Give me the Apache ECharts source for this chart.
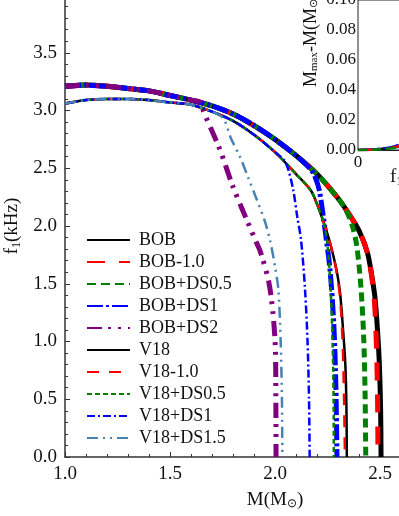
<!DOCTYPE html>
<html><head><meta charset="utf-8">
<script src="https://cdn.jsdelivr.net/npm/echarts@6/dist/echarts.min.js"></script>
<style>html,body{margin:0;padding:0;background:#fff}#c{width:399px;height:516px}</style>
</head><body><div id="c"></div>
<script>
// ---- data (M in solar masses, f1 in kHz) ----
const seriesNames = ['BOB','BOB-1.0','BOB+DS0.5','BOB+DS1','BOB+DS2','V18','V18-1.0','V18+DS0.5','V18+DS1','V18+DS1.5'];

const M_BOB   = [1.00,1.10,1.20,1.30,1.40,1.50,1.60,1.70,1.80,1.90,2.00,2.10,2.20,2.30,2.35,2.40,2.44,2.46,2.476,2.488,2.497,2.503,2.505];
const F_BOB   = [3.21,3.22,3.21,3.19,3.17,3.13,3.09,3.04,2.97,2.87,2.75,2.61,2.45,2.24,2.11,1.96,1.77,1.58,1.38,1.10,0.80,0.40,0.00];

const M_BOB10 = [1.00,1.10,1.20,1.30,1.40,1.50,1.60,1.70,1.80,1.90,2.00,2.10,2.20,2.30,2.35,2.40,2.44,2.46,2.474,2.484,2.489,2.490];
const F_BOB10 = [3.21,3.22,3.21,3.19,3.17,3.13,3.09,3.04,2.97,2.87,2.75,2.61,2.45,2.24,2.11,1.96,1.77,1.57,1.33,0.90,0.40,0.00];

const M_BOBDS05 = [1.00,1.10,1.20,1.30,1.40,1.50,1.60,1.70,1.80,1.90,2.00,2.10,2.20,2.30,2.34,2.37,2.39,2.41,2.422,2.429,2.432];
const F_BOBDS05 = [3.21,3.22,3.21,3.19,3.17,3.13,3.09,3.04,2.97,2.87,2.75,2.61,2.45,2.24,2.13,1.99,1.82,1.45,1.05,0.55,0.00];

const M_BOBDS1 = [1.00,1.10,1.20,1.30,1.40,1.50,1.60,1.70,1.80,1.90,2.00,2.10,2.17,2.19,2.212,2.238,2.262,2.28,2.29,2.295];
const F_BOBDS1 = [3.21,3.22,3.21,3.19,3.17,3.13,3.09,3.04,2.97,2.87,2.75,2.61,2.49,2.43,2.30,1.97,1.62,1.15,0.60,0.00];

const M_BOBDS2 = [1.00,1.10,1.20,1.30,1.40,1.50,1.60,1.645,1.66,1.738,1.80,1.913,1.93,1.97,1.99,2.002,2.004,2.005];
const F_BOBDS2 = [3.21,3.22,3.21,3.19,3.17,3.13,3.09,3.07,2.99,2.66,2.34,1.85,1.78,1.52,1.25,0.93,0.50,0.00];

const M_V18   = [1.00,1.10,1.20,1.30,1.40,1.50,1.60,1.70,1.80,1.90,2.00,2.10,2.17,2.20,2.23,2.255,2.278,2.295,2.31,2.325,2.335,2.340,2.342];
const F_V18   = [3.06,3.09,3.10,3.10,3.09,3.07,3.05,2.99,2.91,2.79,2.64,2.45,2.31,2.19,2.04,1.90,1.74,1.60,1.42,1.08,0.80,0.45,0.00];

const M_V1810 = [1.00,1.10,1.20,1.30,1.40,1.50,1.60,1.70,1.80,1.90,2.00,2.10,2.17,2.20,2.23,2.255,2.278,2.295,2.31,2.322,2.329,2.333];
const F_V1810 = [3.06,3.09,3.10,3.10,3.09,3.07,3.05,2.99,2.91,2.79,2.64,2.45,2.31,2.19,2.04,1.90,1.74,1.58,1.38,1.00,0.50,0.00];

const M_V18DS05 = [1.00,1.10,1.20,1.30,1.40,1.50,1.60,1.70,1.80,1.90,2.00,2.10,2.17,2.20,2.23,2.25,2.265,2.274,2.279,2.280];
const F_V18DS05 = [3.06,3.09,3.10,3.10,3.09,3.07,3.05,2.99,2.91,2.79,2.64,2.45,2.31,2.19,2.04,1.84,1.45,1.00,0.50,0.00];

const M_V18DS1 = [1.00,1.10,1.20,1.30,1.40,1.50,1.60,1.70,1.80,1.90,2.00,2.043,2.063,2.087,2.106,2.124,2.143,2.155,2.162,2.165];
const F_V18DS1 = [3.06,3.09,3.10,3.10,3.09,3.07,3.05,2.99,2.91,2.79,2.64,2.57,2.49,2.31,2.08,1.88,1.45,1.00,0.50,0.00];

const M_V18DS15 = [1.00,1.10,1.20,1.30,1.40,1.50,1.60,1.70,1.754,1.79,1.833,1.87,1.913,1.95,1.976,2.00,2.016,2.027,2.033,2.035];
const F_V18DS15 = [3.06,3.09,3.10,3.10,3.09,3.07,3.05,2.99,2.93,2.76,2.60,2.43,2.23,2.05,1.88,1.65,1.45,1.00,0.50,0.00];

// inset: f1 (kHz) vs Mmax - M (Msun)
const INSET_F      = [0.0,0.4,0.8,1.2,1.6,2.0,2.5,3.0,3.5];
const INSET_DM_BOB = [0.0,0.0002,0.0008,0.0020,0.0050,0.0100,0.0200,0.0400,0.0700];
const INSET_DM_DS1 = [0.0,0.0003,0.0010,0.0026,0.0060,0.0120,0.0240,0.0460,0.0780];
const INSET_DM_V18 = [0.0,0.0001,0.0006,0.0016,0.0040,0.0085,0.0180,0.0360,0.0650];

const X_TICKS = [1.0,1.5,2.0,2.5,3.0];
const Y_TICKS = [0.0,0.5,1.0,1.5,2.0,2.5,3.0,3.5,4.0];

// ---- styles ----
const FONT = 'Liberation Serif';
const mainData = [
  [M_BOB,F_BOB],[M_BOB10,F_BOB10],[M_BOBDS05,F_BOBDS05],[M_BOBDS1,F_BOBDS1],[M_BOBDS2,F_BOBDS2],
  [M_V18,F_V18],[M_V1810,F_V1810],[M_V18DS05,F_V18DS05],[M_V18DS1,F_V18DS1],[M_V18DS15,F_V18DS15]
];
const styles = [
  {color:'#000000', width:5,   type:'solid'},
  {color:'#ff0000', width:5,   type:[18,14]},
  {color:'#008000', width:5,   type:[9,5]},
  {color:'#0000ff', width:5,   type:[16,3,3,3]},
  {color:'#800080', width:5,   type:[15,6,3,7,3,7]},
  {color:'#000000', width:2.5, type:'solid'},
  {color:'#ff0000', width:2.5, type:[12,10]},
  {color:'#008000', width:2.5, type:[5,3]},
  {color:'#0000ff', width:2.5, type:[8,3,2,3]},
  {color:'#4682b4', width:2.5, type:[11,5,2,5,2,5]}
];

const zip = (a,b) => a.map((v,i)=>[v,b[i]]);

const series = seriesNames.map((n,i)=>({
  name:n, type:'line', xAxisIndex:0, yAxisIndex:0,
  data: zip(mainData[i][0], mainData[i][1]),
  symbol:'none', showSymbol:false, smooth:0.3,
  lineStyle:{color:styles[i].color, width:styles[i].width, type:styles[i].type, cap:'butt'},
  itemStyle:{color:styles[i].color},
  z: 2+i, animation:false
}));
const insetSets = [[INSET_DM_V18,9],[INSET_DM_BOB,0],[INSET_DM_DS1,3],[INSET_DM_BOB,1],[INSET_DM_V18,2]];
insetSets.forEach(([d,si],k)=>{
  series.push({
    name:'inset'+k, type:'line', xAxisIndex:1, yAxisIndex:1,
    data: zip(INSET_F,d), symbol:'none', showSymbol:false, smooth:0.3,
    lineStyle:{color:styles[si].color, width:2.5, type:styles[si].type},
    z: 20+k, animation:false
  });
});

const rich = {sub:{fontSize:12, fontFamily:FONT, color:'#111', verticalAlign:'bottom', padding:[8,0,0,0]}};

const chart = echarts.init(document.getElementById('c'), null, {renderer:'canvas'});
chart.setOption({
  backgroundColor:'#ffffff',
  animation:false,
  grid:[
    {left:65, top:-5, width:420, height:462, containLabel:false, outerBoundsMode:'none'},
    {left:358, top:0, width:124, height:150, show:true, backgroundColor:'#ffffff', borderColor:'#222', borderWidth:1, z:10, outerBoundsMode:'none'}
  ],
  legend:{
    data:seriesNames, orient:'vertical', left:86, top:231, padding:0,
    itemWidth:43, itemHeight:12, itemGap:4, selectedMode:false,
    itemStyle:{opacity:0},
    textStyle:{fontFamily:FONT, fontSize:18, color:'#111', lineHeight:18, padding:[0,0,0,4]}
  },
  xAxis:[
    {type:'value', gridIndex:0, min:X_TICKS[0], max:X_TICKS[X_TICKS.length-1], interval:0.5,
     name:'M(M{sub|⊙})', nameLocation:'middle', nameGap:33,
     nameTextStyle:{fontFamily:FONT, fontSize:19, color:'#111', rich:rich},
     axisLine:{onZero:false, lineStyle:{color:'#333', width:1.5}},
     axisTick:{inside:true, length:5, lineStyle:{color:'#333'}},
     minorTick:{show:true, splitNumber:5, length:3, lineStyle:{color:'#333'}},
     splitLine:{show:false},
     axisLabel:{fontFamily:FONT, fontSize:19, color:'#111', margin:8, formatter:v=>v.toFixed(1)}},
    {type:'value', gridIndex:1, min:0, max:4, interval:2,
     axisLine:{onZero:false, lineStyle:{color:'#222', width:1}},
     axisTick:{inside:true, length:4, lineStyle:{color:'#222'}},
     splitLine:{show:false},
     axisLabel:{fontFamily:FONT, fontSize:17, color:'#111', margin:4, formatter:v=>String(v)}}
  ],
  yAxis:[
    {type:'value', gridIndex:0, min:Y_TICKS[0], max:Y_TICKS[Y_TICKS.length-1], interval:0.5,
     name:'f{sub|1}(kHz)', nameLocation:'middle', nameGap:42, nameRotate:90,
     nameTextStyle:{fontFamily:FONT, fontSize:19, color:'#111', rich:rich},
     axisLine:{onZero:false, lineStyle:{color:'#333', width:1.5}},
     axisTick:{inside:true, length:5, lineStyle:{color:'#333'}},
     minorTick:{show:true, splitNumber:5, length:3, lineStyle:{color:'#333'}},
     splitLine:{show:false},
     axisLabel:{fontFamily:FONT, fontSize:19, color:'#111', margin:8, formatter:v=>v.toFixed(1)}},
    {type:'value', gridIndex:1, min:0, max:0.1, interval:0.02,
     axisLine:{onZero:false, lineStyle:{color:'#222', width:1}},
     axisTick:{inside:true, length:4, lineStyle:{color:'#222'}},
     minorTick:{show:true, splitNumber:2, length:2, lineStyle:{color:'#222'}},
     splitLine:{show:false},
     axisLabel:{fontFamily:FONT, fontSize:17, color:'#111', margin:2, formatter:v=>v.toFixed(2)}}
  ],
  graphic:[
    {type:'text', x:311, y:40, rotation:Math.PI/2, z:100,
     style:{text:'M{sub|max}-M(M{sub|⊙})', fontFamily:FONT, fontSize:18, fill:'#111',
            align:'center', verticalAlign:'middle',
            rich:{sub:{fontSize:11, fontFamily:FONT, fill:'#111', verticalAlign:'bottom', padding:[7,0,0,0]}}}},
    {type:'text', left:390, top:168, z:100,
     style:{text:'f{sub|1}(kHz)', fontFamily:FONT, fontSize:19, fill:'#111',
            rich:{sub:{fontSize:12, fontFamily:FONT, fill:'#111', verticalAlign:'bottom', padding:[8,0,0,0]}}}}
  ],
  series:series
});
</script>
</body></html>
